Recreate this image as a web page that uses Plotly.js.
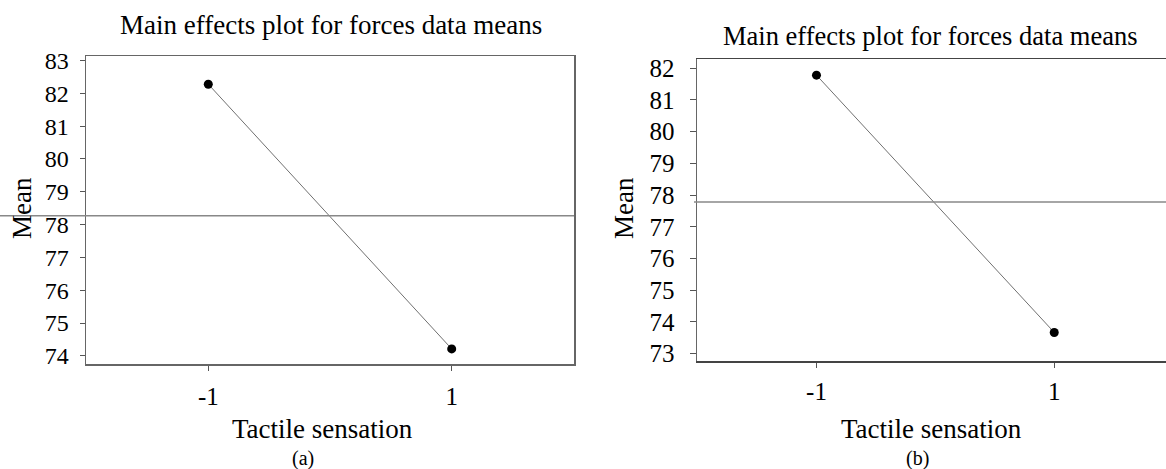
<!DOCTYPE html>
<html>
<head>
<meta charset="utf-8">
<script src="https://cdn.plot.ly/plotly-3.0.1.min.js"></script>
<style>html,body{margin:0;padding:0;background:#fff;}#chart{width:1166px;height:469px;}</style>
</head>
<body>
<div id="chart"></div>
<script>
// Data
const levels = [-1, 1];
const levelLabels = ["-1", "1"];
const meansA = [82.28, 74.21];
const meansB = [81.78, 73.67];
const grandMeanA = [78.27];
const grandMeanB = [77.78];
const yTicksA = [74, 75, 76, 77, 78, 79, 80, 81, 82, 83];
const yTicksB = [73, 74, 75, 76, 77, 78, 79, 80, 81, 82];
const titleText = "Main effects plot for forces data means";
const xTitleText = "Tactile sensation";
const yTitleText = "Mean";
const panelLabels = ["(a)", "(b)"];

const W = 1166, H = 469;
const px = x => x / W;
const py = y => 1 - y / H;
const FONT = "Liberation Serif";

const traces = [
  {x: levels, y: meansA, xaxis: "x", yaxis: "y", mode: "lines+markers", type: "scatter",
   line: {color: "#707070", width: 1}, marker: {color: "#000", size: 9}, hoverinfo: "x+y", showlegend: false},
  {x: levels, y: meansB, xaxis: "x2", yaxis: "y2", mode: "lines+markers", type: "scatter",
   line: {color: "#707070", width: 1}, marker: {color: "#000", size: 9}, hoverinfo: "x+y", showlegend: false}
];

function tf(size) { return {family: FONT, size: size, color: "#000"}; }

const layout = {
  width: W, height: H,
  margin: {l: 0, r: 0, t: 0, b: 0, pad: 0},
  paper_bgcolor: "#fff", plot_bgcolor: "#fff",
  font: {family: FONT, color: "#000", size: 20},
  showlegend: false,
  xaxis: {
    showgrid: false, zeroline: false, showline: true, linewidth: 1.5, ticks: "outside", ticklen: 5, tickwidth: 1, tickcolor: "#555",
    tickfont: tf(25), domain: [px(86), px(574)], range: [-2.005, 2.005], anchor: "y",
    tickmode: "array", tickvals: levels, ticktext: levelLabels, linecolor: "#666", mirror: true, ticklabelstandoff: 4
  },
  yaxis: {
    showgrid: false, zeroline: false, showline: true, linewidth: 1.5, ticks: "outside", ticklen: 5, tickwidth: 1, tickcolor: "#555",
    tickfont: tf(24), domain: [py(364), py(56)], range: [73.75, 83.14], anchor: "x",
    tickmode: "array", tickvals: yTicksA, ticktext: yTicksA.map(String), linecolor: "#666", mirror: true, ticklabelstandoff: 6
  },
  xaxis2: {
    showgrid: false, zeroline: false, showline: true, linewidth: 1.5, ticks: "outside", ticklen: 5, tickwidth: 1, tickcolor: "#555",
    tickfont: tf(25), domain: [px(697), 1], range: [-2.005, 1.94], anchor: "y2",
    tickmode: "array", tickvals: levels, ticktext: levelLabels, linecolor: "#444", mirror: true, ticklabelstandoff: 2
  },
  yaxis2: {
    showgrid: false, zeroline: false, showline: true, linewidth: 1.5, ticks: "outside", ticklen: 6, tickwidth: 1, tickcolor: "#555",
    tickfont: tf(25), domain: [py(361), py(59.3)], range: [72.77, 82.28], anchor: "x2",
    tickmode: "array", tickvals: yTicksB, ticktext: yTicksB.map(String), linecolor: "#666", mirror: false, ticklabelstandoff: 10
  },
  shapes: [
    {type: "line", xref: "paper", yref: "y", x0: 0, x1: px(574), y0: grandMeanA[0], y1: grandMeanA[0],
     line: {color: "#888", width: 1.5}},
    {type: "line", xref: "paper", yref: "y2", x0: px(694), x1: 1, y0: grandMeanB[0], y1: grandMeanB[0],
     line: {color: "#888", width: 1.5}}
  ],
  annotations: [
    {text: titleText, xref: "paper", yref: "paper", x: px(331), y: py(25), xanchor: "center", yanchor: "middle",
     showarrow: false, font: tf(27)},
    {text: titleText, xref: "paper", yref: "paper", x: px(930), y: py(36), xanchor: "center", yanchor: "middle",
     showarrow: false, font: tf(26.5)},
    {text: xTitleText, xref: "paper", yref: "paper", x: px(322), y: py(429), xanchor: "center", yanchor: "middle",
     showarrow: false, font: tf(27)},
    {text: xTitleText, xref: "paper", yref: "paper", x: px(931), y: py(429), xanchor: "center", yanchor: "middle",
     showarrow: false, font: tf(27)},
    {text: yTitleText, xref: "paper", yref: "paper", x: px(22), y: py(208), xanchor: "center", yanchor: "middle",
     textangle: -90, showarrow: false, font: tf(27)},
    {text: yTitleText, xref: "paper", yref: "paper", x: px(624), y: py(208), xanchor: "center", yanchor: "middle",
     textangle: -90, showarrow: false, font: tf(27)},
    {text: panelLabels[0], xref: "paper", yref: "paper", x: px(303), y: py(458), xanchor: "center", yanchor: "middle",
     showarrow: false, font: tf(20)},
    {text: panelLabels[1], xref: "paper", yref: "paper", x: px(917), y: py(458), xanchor: "center", yanchor: "middle",
     showarrow: false, font: tf(20)}
  ]
};

Plotly.newPlot("chart", traces, layout, {displayModeBar: false, staticPlot: true});
</script>
</body>
</html>
